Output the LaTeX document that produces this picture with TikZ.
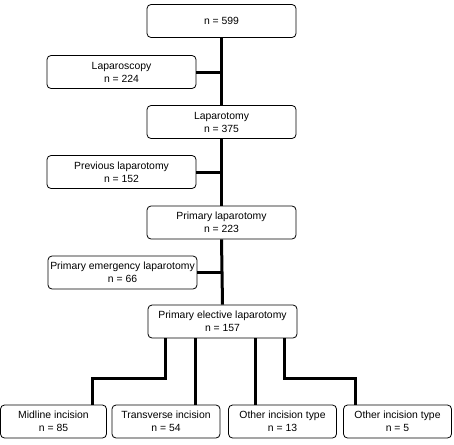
\documentclass[tikz,border=0pt]{standalone}
\usepackage{fontspec}
\setmainfont{Liberation Sans}
\begin{document}
\begin{tikzpicture}[x=1pt,y=-1pt,
  box/.style={draw, line width=0.8pt, rounded corners=4pt, align=center,
    minimum height=33pt, inner sep=1pt, font=\fontsize{10.4}{13}\selectfont},
  wide/.style={box, minimum width=149pt},
  narrow/.style={box, minimum width=108pt},
  link/.style={line width=3pt}]
\useasboundingbox (0,0) rectangle (454,444);
% main column
\node [wide] (total) at (221.5,21) {n = 599};
\node [wide] (lapscopy) at (121.5,72) {Laparoscopy\\n = 224};
\node [wide] (laptomy) at (221.5,122) {Laparotomy\\n = 375};
\node [wide] (previous) at (121.5,172) {Previous laparotomy\\n = 152};
\node [wide] (primary) at (221.5,222.5) {Primary laparotomy\\n = 223};
\node [wide] (emergency) at (122.5,272.5) {Primary emergency laparotomy\\n = 66};
\node [wide] (elective) at (222.5,321.5) {Primary elective laparotomy\\n = 157};
% incision types
\node [narrow, minimum width=106pt] (midline) at (53.5,421.5) {Midline incision\\n = 85};
\node [narrow] (transverse) at (166,421.5) {Transverse incision\\n = 54};
\node [narrow] (otherA) at (282.5,421.5) {Other incision type\\n = 13};
\node [narrow] (otherB) at (397.5,421.5) {Other incision type\\n = 5};
% trunk
\draw [link] (total.south) -- (laptomy.north);
\draw [link] (laptomy.south) -- (primary.north);
\draw [link] (primary.south) -- (elective.north);
\coordinate (jA) at (221.5,72);
\coordinate (jB) at (221.5,172);
\coordinate (jC) at (222,272.5);
\draw [link] (lapscopy.east) -- (jA);
\draw [link] (previous.east) -- (jB);
\draw [link] (emergency.east) -- (jC);
% branches
\coordinate (bA) at (165,338);
\coordinate (bB) at (195,338);
\coordinate (bC) at (255,338);
\coordinate (bD) at (284,338);
\coordinate (kA) at (92,378);
\coordinate (kD) at (355,378);
\draw [link] (bA) |- (kA) -- (midline.north -| kA);
\draw [link] (bB) -- (transverse.north -| bB);
\draw [link] (bC) -- (otherA.north -| bC);
\draw [link] (bD) |- (kD) -- (otherB.north -| kD);
\end{tikzpicture}
\end{document}
